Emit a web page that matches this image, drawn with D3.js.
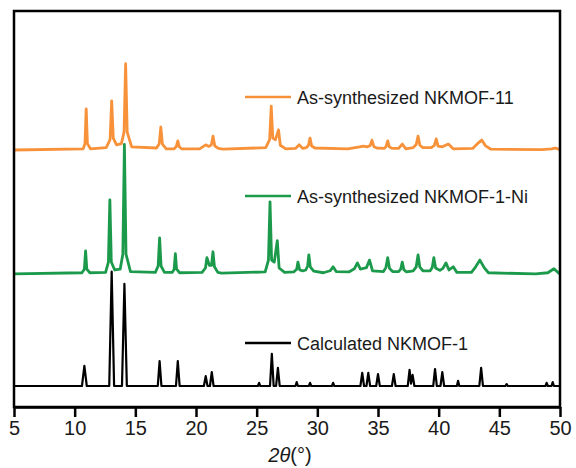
<!DOCTYPE html>
<html lang="en">
	<head>
		<meta charset="utf-8">
		<title>XRD NKMOF</title>
		<script src="https://d3js.org/d3.v7.min.js" charset="utf-8"></script>
		<style type="text/css">
		body { margin: 0; background: #fff; }
		.tick text, .label, .legend-text {
			font-family: "Liberation Sans", Arial, Helvetica, sans-serif;
			fill: #1a1a1a;
		}
		</style>
	</head>
	<body>
		<div id="chart"></div>
		<script>
			var width = 576;
			var height = 468;

			// [2theta, intensity], each pattern on its own zero
			var calculated = [
				[5,0],[10.6,0],[10.8,5.1],[11.0,0],
				[12.85,0],[13.05,28.9],[13.25,0],
				[13.9,0],[14.1,25.8],[14.3,0],
				[16.85,0],[17.0,6.3],[17.15,0],
				[18.35,0],[18.5,6.3],[18.65,0],
				[20.65,0],[20.8,2.5],[20.95,0],
				[21.15,0],[21.3,3.5],[21.45,0],
				[25.1,0],[25.2,0.8],[25.3,0],
				[26.1,0],[26.25,8.1],[26.4,0],
				[26.6,0],[26.75,4.6],[26.9,0],
				[28.2,0],[28.3,1.0],[28.4,0],
				[29.3,0],[29.4,0.8],[29.5,0],
				[31.2,0],[31.3,0.8],[31.4,0],
				[33.55,0],[33.7,3.3],[33.85,0],
				[34.05,0],[34.2,3.3],[34.35,0],
				[34.85,0],[35.0,3.0],[35.15,0],
				[36.15,0],[36.3,3.0],[36.45,0],
				[37.45,0],[37.6,4.1],[37.72,0.6],[37.85,2.8],[38.0,0],
				[39.55,0],[39.7,4.3],[39.85,0],
				[40.15,0],[40.3,3.5],[40.45,0],
				[41.5,0],[41.6,1.3],[41.7,0],
				[43.35,0],[43.5,4.6],[43.65,0],
				[45.5,0],[45.6,0.5],[45.7,0],
				[48.8,0],[48.9,0.8],[49.0,0],
				[49.3,0],[49.4,1.0],[49.5,0],
				[50,0]
			];

			var nkmof1Ni = [
				[5,0],[10.6,0.3],[10.8,1.2],[10.9,5.8],[11.0,1.2],[11.25,0.3],
				[12.55,0.4],[12.78,3],[12.9,18.7],[13.02,3],[13.3,1],[13.75,1.2],[13.97,5],[14.1,32.7],[14.23,5],[14.6,0.6],
				[16.65,0.4],[16.88,2],[17.0,9.1],[17.12,2],[17.4,0.4],
				[18.05,0.4],[18.2,1.2],[18.3,5.1],[18.4,1.2],[18.65,0.3],
				[20.5,0.4],[20.78,1.5],[20.9,4.1],[21.1,2.2],[21.28,2.2],[21.4,5.6],[21.52,1.8],[21.8,0.4],[22.1,0.2],
				[25.7,0.5],[25.97,3.5],[26.1,18.2],[26.23,3.5],[26.45,3],[26.7,8.4],[26.85,1.5],[27.3,0.4],
				[28.05,0.5],[28.3,1.2],[28.4,3.0],[28.55,1],[28.8,0.8],
				[29.05,1.0],[29.2,2],[29.3,4.8],[29.42,1.8],[29.7,0.7],
				[30.5,0.3],[31.05,0.8],[31.3,1.8],[31.55,0.6],
				[32.6,0.5],[33.05,1.3],[33.3,2.8],[33.55,1.2],[34.05,1.6],[34.3,3.5],[34.55,0.8],
				[35.45,0.6],[35.65,1.6],[35.8,4.1],[35.95,1.4],[36.2,0.6],
				[36.7,0.6],[36.87,1.2],[37.0,3.0],[37.13,1.1],[37.35,0.5],
				[37.9,0.8],[38.15,1.8],[38.3,4.8],[38.45,1.7],[38.7,0.8],
				[39.3,0.8],[39.47,1.6],[39.6,4.1],[39.75,1.5],[40.1,0.9],[40.35,1.4],[40.6,2.8],[40.85,1.0],[41.2,1.8],[41.5,0.4],
				[42.7,0.4],[43.05,1.8],[43.4,3.5],[43.75,1.6],[44.1,0.3],
				[48,0],[49.0,0.3],[49.5,1.3],[49.9,0.2],[50,0]
			];

			var nkmof11 = [
				[5,0],[10.7,0.3],[10.85,1.6],[10.95,10.4],[11.05,1.6],[11.3,0.3],
				[12.6,0.6],[12.92,2.6],[13.05,12.4],[13.18,3],[13.45,1.3],[13.85,1.6],[14.07,4.5],[14.2,21.8],[14.33,4.5],[14.7,0.8],
				[16.75,0.5],[16.97,1.6],[17.1,5.8],[17.23,1.5],[17.55,0.3],
				[18.2,0.3],[18.38,0.9],[18.5,2.3],[18.62,0.8],[18.8,0.3],
				[20.3,0.3],[20.8,1.3],[21.05,0.9],[21.27,1.3],[21.4,3.5],[21.55,1],[21.85,0.4],[22.2,0.2],
				[25.75,0.6],[26.07,2.6],[26.2,11.1],[26.33,3],[26.55,2.6],[26.8,5.1],[26.95,1.2],[27.4,0.3],
				[28.2,0.4],[28.5,1.3],[28.8,0.4],
				[29.1,0.6],[29.27,1.2],[29.4,3.0],[29.53,1],[29.8,0.5],
				[32.5,0.3],[33.5,0.8],[33.8,1.0],[34.1,0.8],[34.35,1.1],[34.5,2.5],[34.65,0.9],[34.9,0.5],
				[35.5,0.4],[35.67,0.9],[35.8,2.3],[35.93,0.8],[36.15,0.4],
				[36.7,0.4],[37.0,1.5],[37.3,0.3],
				[37.9,0.6],[38.15,1.4],[38.3,3.5],[38.45,1.2],[38.7,0.6],
				[39.4,0.6],[39.65,1.2],[39.8,2.8],[39.95,1.0],[40.3,0.8],[40.8,1.5],[41.2,0.3],
				[42.8,0.4],[43.2,1.6],[43.55,2.5],[43.85,1.1],[44.3,0.2],
				[48.5,0.1],[49.3,0.3],[49.6,0.5],[49.9,0.2],[50,0]
			];

			var seriesNames = ["Calculated NKMOF-1", "As-synthesized NKMOF-1-Ni", "As-synthesized NKMOF-11"];
			var seriesData = [calculated, nkmof1Ni, nkmof11];
			var seriesOffsets = [5.3, 33.6, 64.9];
			var seriesColors = ["#000000", "#1c9a4b", "#f7923a"];
			var xTicks = [5, 10, 15, 20, 25, 30, 35, 40, 45, 50];

			var svg = d3.select("div#chart")
						.append("svg")
						.attr("width", width)
						.attr("height", height);

			var x = d3.scaleLinear()
					.domain([5, 50])
					.range([14, 560]);

			var y = d3.scaleLinear()
					.domain([0, 100])
					.range([407, 11]);

			var line = d3.line()
					.x(function(d) { return x(d[0]); })
					.y(function(d) { return y(d[1]); });

//patterns
			seriesData.forEach(function(data, i) {
				svg.append("path")
					.datum(data.map(function(d) { return [d[0], d[1] + seriesOffsets[i]]; }))
					.attr("fill", "none")
					.attr("stroke", seriesColors[i])
					.attr("stroke-width", i == 0 ? 2.2 : 2.8)
					.attr("stroke-linejoin", "round")
					.attr("d", line);
			});

//frame + axis
			svg.append("rect")
				.attr("x", x.range()[0])
				.attr("y", y.range()[1])
				.attr("width", x.range()[1] - x.range()[0])
				.attr("height", y.range()[0] - y.range()[1])
				.attr("fill", "none")
				.attr("stroke", "#000")
				.attr("stroke-width", 2.5);

			var xAxis = svg.append("g")
				.attr("transform", "translate(0," + y.range()[0] + ")")
				.call(d3.axisBottom(x)
					.tickValues(xTicks)
					.tickSize(10)
					.tickSizeOuter(0)
					.tickPadding(4)
					.tickFormat(d3.format("d")));

			xAxis.select(".domain")
				.attr("stroke-width", 2.5);
			xAxis.selectAll(".tick line")
				.attr("stroke-width", 2.5);
			xAxis.selectAll(".tick text")
				.attr("font-size", "20px")
				.attr("fill", "#1a1a1a");

			var title = svg.append("text")
				.attr("class", "label")
				.attr("x", 290)
				.attr("y", 462)
				.attr("text-anchor", "middle")
				.attr("font-size", "20px");
			title.append("tspan")
				.attr("font-style", "italic")
				.text("2\u03b8");
			title.append("tspan")
				.text("(\u00b0)");

//legend
			var legendY = [343, 196, 97];
			seriesNames.forEach(function(name, i) {
				svg.append("line")
					.attr("x1", 245)
					.attr("x2", 291)
					.attr("y1", legendY[i])
					.attr("y2", legendY[i])
					.attr("stroke", seriesColors[i])
					.attr("stroke-width", 2.5);
				svg.append("text")
					.attr("class", "legend-text")
					.attr("x", 297)
					.attr("y", legendY[i] + 6.5)
					.attr("font-size", "18px")
					.text(name);
			});
		</script>
	</body>
</html>
